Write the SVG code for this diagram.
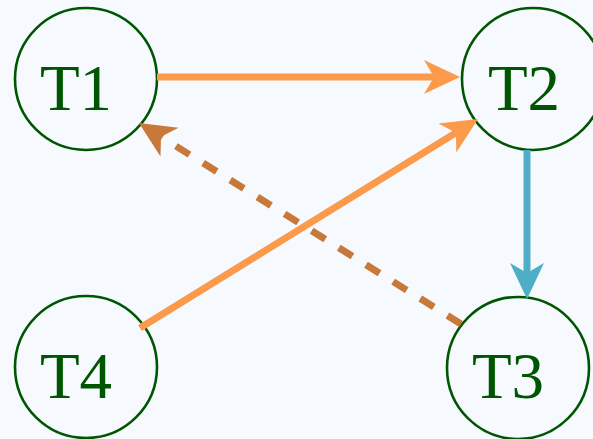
<svg xmlns="http://www.w3.org/2000/svg" width="593" height="439" viewBox="0 0 593 439">
<style>
.node circle{fill:#f6fafe;stroke:#005500;stroke-width:2.6}
.node text{font-family:"Liberation Serif","Times New Roman",serif;font-size:65px;fill:#005500;text-anchor:middle}
.e{fill:none;stroke-width:7}
</style>
<defs>
<marker id="ao" markerUnits="userSpaceOnUse" markerWidth="36" markerHeight="36" viewBox="0 0 36 36" refX="10" refY="18" orient="auto"><path d="M36,18 L0,1 L10,18 L0,35 Z" fill="#fa9a4a"/></marker>
<marker id="ab" markerUnits="userSpaceOnUse" markerWidth="36" markerHeight="36" viewBox="0 0 36 36" refX="10" refY="18" orient="auto"><path d="M36,18 L0,1 L10,18 L0,35 Z" fill="#4eaec8"/></marker>
<marker id="ar" markerUnits="userSpaceOnUse" markerWidth="36" markerHeight="36" viewBox="0 0 36 36" refX="10" refY="18" orient="auto"><path d="M36,18 L0,1 L10,18 L0,35 Z" fill="#c87838"/></marker>
</defs>
<rect width="593" height="439" fill="#f6fafe"/>
<g id="T1" class="node"><circle cx="86" cy="79" r="71"/><text x="76" y="110">T1</text></g>
<g id="T2" class="node"><circle cx="533" cy="79" r="71"/><text x="524" y="110">T2</text></g>
<g id="T3" class="node"><circle cx="518" cy="368" r="71"/><text x="508" y="398">T3</text></g>
<g id="T4" class="node"><circle cx="86" cy="367" r="71"/><text x="76" y="398">T4</text></g>
<g id="edges">
<line class="e" x1="157" y1="77" x2="434" y2="77" stroke="#fa9a4a" marker-end="url(#ao)"/>
<line class="e" x1="140" y1="328" x2="455.9" y2="132.7" stroke="#fa9a4a" marker-end="url(#ao)"/>
<line class="e" x1="527" y1="150" x2="527" y2="273" stroke="#4eaec8" marker-end="url(#ab)"/>
<line class="e" x1="461" y1="324" x2="161" y2="136.8" stroke="#c87838" stroke-width="8" stroke-dasharray="16 16" marker-end="url(#ar)"/>
</g>
</svg>
